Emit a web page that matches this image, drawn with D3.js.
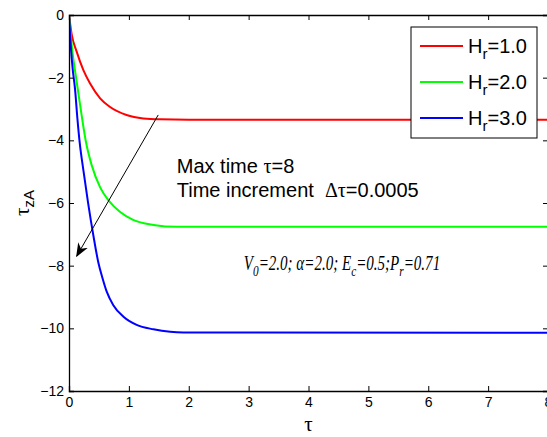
<!DOCTYPE html>
<html>
<head>
<meta charset="utf-8">
<script src="https://cdn.jsdelivr.net/npm/d3@7"></script>
<style>
  body { margin: 0; background: #fff; }
  svg { display: block; font-family: Arial, "Liberation Sans", sans-serif; }
</style>
</head>
<body>
<svg id="chart"></svg>
<script>
// values
const xTicks = [0, 1, 2, 3, 4, 5, 6, 7, 8];
const yTicks = [0, -2, -4, -6, -8, -10, -12];

const tauRed = [0, 0.045, 0.128, 0.24, 0.35, 0.52, 0.68, 0.96, 1.24, 1.52, 2.0, 8];
const zRed = [0, -0.62, -1.17, -1.76, -2.18, -2.66, -2.93, -3.19, -3.30, -3.33, -3.34, -3.34];

const tauGreen = [0, 0.045, 0.128, 0.21, 0.28, 0.38, 0.52, 0.67, 0.85, 1.07, 1.41, 1.8, 8];
const zGreen = [0, -0.96, -2.13, -3.19, -4.02, -4.8, -5.5, -5.94, -6.28, -6.54, -6.70, -6.76, -6.76];

const tauBlue = [0, 0.03, 0.06, 0.10, 0.14, 0.18, 0.24, 0.32, 0.41, 0.49, 0.56, 0.63, 0.74, 0.91, 1.13, 1.41, 1.69, 1.91, 8];
const zBlue = [0, -1.0, -1.7, -2.35, -3.3, -4.1, -4.95, -6.01, -7.07, -7.9, -8.4, -8.83, -9.26, -9.63, -9.89, -10.03, -10.11, -10.13, -10.14];

const seriesNames = ["1.0", "2.0", "3.0"];
const seriesColors = ["#ff0000", "#00ff00", "#0000ff"];

// arrow annotation, data units
const arrowFrom = [1.49, -3.19];
const arrowTo = [0.13, -7.69];

const width = 547, height = 437;
const margin = { top: 15, right: -1, bottom: 46, left: 69 };

const svg = d3.select("#chart").attr("width", width).attr("height", height);

const x = d3.scaleLinear().domain([0, 8]).range([margin.left, width - margin.right]);
const y = d3.scaleLinear().domain([-12, 0]).range([height - margin.bottom, margin.top]);

const series = [
  { t: tauRed, z: zRed },
  { t: tauGreen, z: zGreen },
  { t: tauBlue, z: zBlue }
].map((s, i) => ({
  name: seriesNames[i],
  color: seriesColors[i],
  pts: s.t.map((t, j) => [t, s.z[j]])
}));

const line = d3.line()
  .x(d => x(d[0]))
  .y(d => y(d[1]))
  .curve(d3.curveMonotoneX);

svg.append("clipPath").attr("id", "clip")
  .append("rect")
  .attr("x", x(0)).attr("y", y(0))
  .attr("width", x(8) - x(0)).attr("height", y(-12) - y(0));

svg.append("g").attr("clip-path", "url(#clip)")
  .selectAll("path")
  .data(series)
  .join("path")
  .attr("d", d => line(d.pts))
  .attr("fill", "none")
  .attr("stroke", d => d.color)
  .attr("stroke-width", 2);

// axes, MATLAB style: ticks pointing inward on all four sides
const tickLen = 5;
const fontSize = 14;

const axBottom = svg.append("g")
  .attr("transform", "translate(0," + y(-12) + ")")
  .call(d3.axisBottom(x).tickValues(xTicks).tickSize(-tickLen).tickPadding(6).tickFormat(d3.format("d")));
const axTop = svg.append("g")
  .attr("transform", "translate(0," + y(0) + ")")
  .call(d3.axisTop(x).tickValues(xTicks).tickSize(-tickLen).tickFormat(""));
const axLeft = svg.append("g")
  .attr("transform", "translate(" + x(0) + ",0)")
  .call(d3.axisLeft(y).tickValues(yTicks).tickSize(-tickLen).tickPadding(5).tickFormat(d3.format("d")));
const axRight = svg.append("g")
  .attr("transform", "translate(" + x(8) + ",0)")
  .call(d3.axisRight(y).tickValues(yTicks).tickSize(-tickLen).tickFormat(""));

[axBottom, axTop, axLeft, axRight].forEach(g => {
  g.select(".domain").attr("stroke", "#000").attr("stroke-width", 1.3);
  g.selectAll(".tick line").attr("stroke", "#000");
  g.selectAll("text")
    .attr("fill", "#000")
    .style("font-size", fontSize + "px")
    .style("font-family", "Arial, 'Liberation Sans', sans-serif");
});

// axis labels
svg.append("text")
  .attr("x", x(4))
  .attr("y", 431)
  .attr("text-anchor", "middle")
  .style("font-family", "'Liberation Serif', 'Times New Roman', serif")
  .style("font-size", "21px")
  .text("τ");

const yl = svg.append("text")
  .attr("transform", "translate(29," + y(-6) + ") rotate(-90)")
  .attr("text-anchor", "middle")
  .style("font-size", "18px");
yl.append("tspan").style("font-family", "'Liberation Serif', serif").style("font-size", "21px").text("τ");
yl.append("tspan").attr("dy", 5).style("font-size", "15px").text("zA");

// annotation text
const noteX = x(1.80);
svg.append("text")
  .attr("x", noteX).attr("y", y(-5.04))
  .style("font-size", "20px")
  .call(t => {
    t.append("tspan").text("Max time ");
    t.append("tspan").style("font-family", "'Liberation Serif', serif").style("font-size", "20px").text("τ");
    t.append("tspan").text("=8");
  });
svg.append("text")
  .attr("x", noteX).attr("y", y(-5.81))
  .style("font-size", "20px")
  .call(t => {
    t.append("tspan").text("Time increment\u00a0\u00a0");
    t.append("tspan").style("font-family", "'Liberation Serif', serif").style("font-size", "20px").text("Δτ");
    t.append("tspan").text("=0.0005");
  });

// parameter line, fitted between two tau positions as in the reference
const paramsFrom = 2.92, paramsTo = 6.2;
const pg = svg.append("g");
const params = pg.append("text")
  .style("font-family", "'Liberation Serif', 'Times New Roman', serif")
  .style("font-style", "italic")
  .style("font-size", "20px");
[["V", "0", "=2.0; α=2.0; "], ["E", "c", "=0.5;"], ["P", "r", "=0.71"]].forEach(p => {
  params.append("tspan").text(p[0]);
  params.append("tspan").attr("dy", 6).style("font-size", "15px").text(p[1]);
  params.append("tspan").attr("dy", -6).text(p[2]);
});
const pw = params.node().getBBox().width;
const sx = (x(paramsTo) - x(paramsFrom)) / pw;
pg.attr("transform", "translate(" + x(paramsFrom) + "," + y(-8.14) + ") scale(" + sx + ",1)");

// arrow
svg.append("defs").append("marker")
  .attr("id", "head")
  .attr("viewBox", "0 0 10 10")
  .attr("refX", 9).attr("refY", 5)
  .attr("markerWidth", 14).attr("markerHeight", 14)
  .attr("markerUnits", "userSpaceOnUse")
  .attr("orient", "auto")
  .append("path")
  .attr("d", "M0,1 L10,5 L0,9 L3,5 Z")
  .attr("fill", "#000");

svg.append("line")
  .attr("x1", x(arrowFrom[0])).attr("y1", y(arrowFrom[1]))
  .attr("x2", x(arrowTo[0])).attr("y2", y(arrowTo[1]))
  .attr("stroke", "#000")
  .attr("stroke-width", 1)
  .attr("marker-end", "url(#head)");

// legend
const lg = svg.append("g").attr("transform", "translate(411,27)");
lg.append("rect")
  .attr("width", 126).attr("height", 111)
  .attr("fill", "#fff").attr("stroke", "#000").attr("stroke-width", 1);
const rows = lg.selectAll("g.row")
  .data(series)
  .join("g")
  .attr("class", "row")
  .attr("transform", (d, i) => "translate(0," + (19 + i * 36) + ")");
rows.append("line")
  .attr("x1", 9).attr("x2", 52)
  .attr("stroke", d => d.color).attr("stroke-width", 2);
rows.append("text")
  .attr("x", 57).attr("y", 7)
  .style("font-size", "20px")
  .call(t => {
    t.append("tspan").text("H");
    t.append("tspan").attr("dy", 6).style("font-size", "15px").text("r");
    t.append("tspan").attr("dy", -6).text(d => "=" + d.name);
  });
</script>
</body>
</html>
